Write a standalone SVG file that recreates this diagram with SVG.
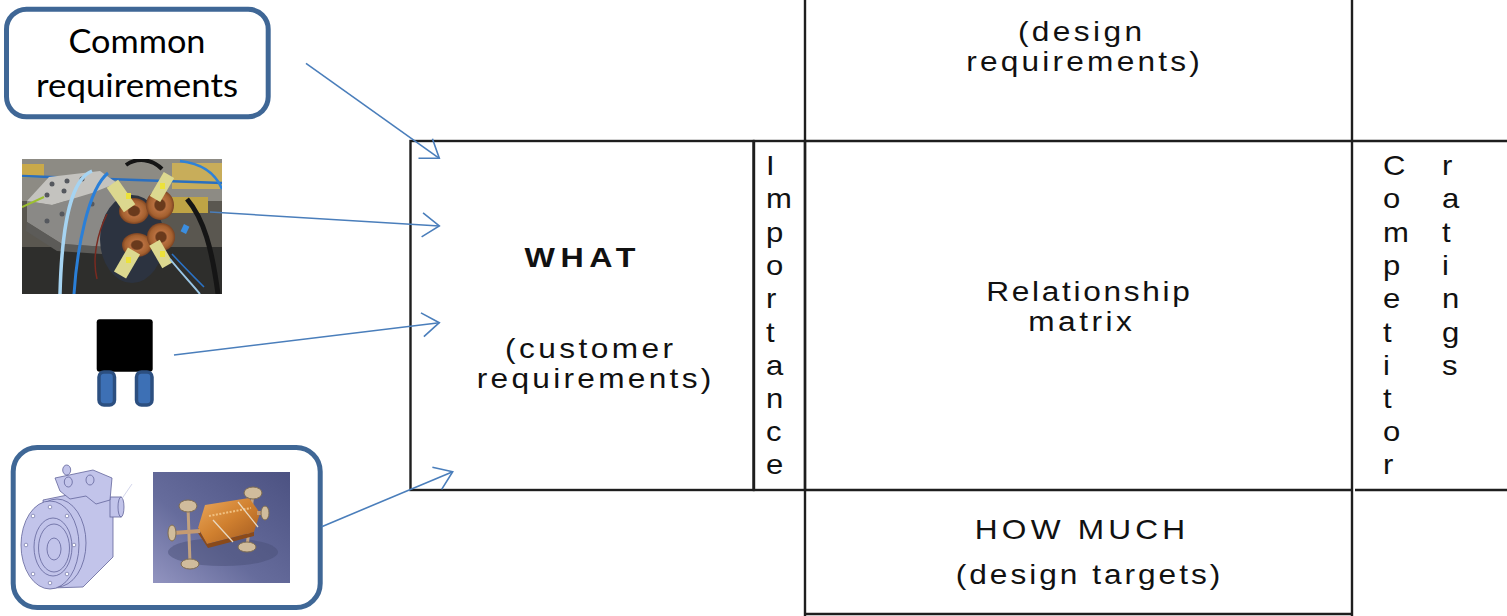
<svg xmlns="http://www.w3.org/2000/svg" width="1507" height="616" viewBox="0 0 1507 616">
<style>
.ln{stroke:#1e1e1e;stroke-width:2.4;fill:none}
.t{font-family:"Liberation Sans",Arial,sans-serif;font-size:27.5px;fill:#111;text-anchor:middle}
.v{font-family:"Liberation Sans",Arial,sans-serif;font-size:27px;fill:#111}
.cb{fill:#fff;stroke:#3f6796;stroke-width:5}
.ar{stroke:#4a7ebb;stroke-width:1.6;fill:none;marker-end:url(#ah)}
.cal{font-family:Lato,"Liberation Sans",sans-serif;font-size:33px;fill:#000;text-anchor:middle}
.fl{fill:#c2c4ea;stroke:#62649a;stroke-width:0.8}
</style>
<defs>
<marker id="ah" viewBox="0 0 21 26" refX="19" refY="13" markerWidth="21" markerHeight="26" markerUnits="userSpaceOnUse" orient="auto">
<path d="M2,1 L19,13 L2,25" fill="none" stroke="#4a7ebb" stroke-width="1.6"/>
</marker>
<clipPath id="c1"><rect x="0" y="0" width="200" height="135"/></clipPath>
<clipPath id="c2"><rect x="0" y="0" width="137" height="111"/></clipPath>
<linearGradient id="g2" x1="1" y1="0" x2="0" y2="1">
<stop offset="0" stop-color="#4c5282"/><stop offset="0.6" stop-color="#666c9c"/><stop offset="1" stop-color="#9294c0"/>
</linearGradient>
<linearGradient id="cu" x1="0" y1="0" x2="1" y2="1">
<stop offset="0" stop-color="#eaa85c"/><stop offset="0.5" stop-color="#d0802f"/><stop offset="1" stop-color="#a05820"/>
</linearGradient>
<radialGradient id="coil" cx="0.5" cy="0.5" r="0.5">
<stop offset="0.35" stop-color="#6a3a1c"/><stop offset="0.45" stop-color="#b87040"/><stop offset="0.8" stop-color="#a4602f"/><stop offset="1" stop-color="#7a4222"/>
</radialGradient>
</defs>

<!-- matrix -->
<g id="what">
<rect class="ln" x="410.5" y="141" width="343" height="349"/>
<text class="t" transform="translate(580,267) scale(1.15,1)" textLength="96.5" lengthAdjust="spacing" style="font-weight:bold;font-size:28px">WHAT</text>
<text class="t" transform="translate(589,358) scale(1.15,1)" textLength="146" lengthAdjust="spacing">(customer</text>
<text class="t" transform="translate(594,388) scale(1.15,1)" textLength="204" lengthAdjust="spacing">requirements)</text>
</g>
<g id="importance">
<rect class="ln" x="754" y="141" width="51" height="349"/>
<text class="v" transform="translate(766,0) scale(1.15,1)"><tspan x="0" y="175">I</tspan><tspan x="0" y="208">m</tspan><tspan x="0" y="242">p</tspan><tspan x="0" y="275">o</tspan><tspan x="0" y="308">r</tspan><tspan x="0" y="342">t</tspan><tspan x="0" y="375">a</tspan><tspan x="0" y="408">n</tspan><tspan x="0" y="441">c</tspan><tspan x="0" y="474">e</tspan></text>
</g>
<g id="grid">
<line class="ln" x1="805" y1="0" x2="805" y2="616"/>
<line class="ln" x1="1352" y1="0" x2="1352" y2="616"/>
<line class="ln" x1="805" y1="141" x2="1507" y2="141"/>
<line class="ln" x1="805" y1="490" x2="1351" y2="490"/>
<line class="ln" x1="1355" y1="490" x2="1507" y2="490"/>
<line class="ln" x1="805" y1="614" x2="1352" y2="614"/>
</g>
<g id="design-requirements">
<text class="t" transform="translate(1080,41) scale(1.15,1)" textLength="108" lengthAdjust="spacing">(design</text>
<text class="t" transform="translate(1083,71) scale(1.15,1)" textLength="203" lengthAdjust="spacing">requirements)</text>
</g>
<g id="relationship">
<text class="t" transform="translate(1088,301) scale(1.15,1)" textLength="177" lengthAdjust="spacing">Relationship</text>
<text class="t" transform="translate(1080,331) scale(1.15,1)" textLength="90" lengthAdjust="spacing">matrix</text>
</g>
<g id="how-much">
<text class="t" transform="translate(1080,539) scale(1.15,1)" textLength="183" lengthAdjust="spacing">HOW MUCH</text>
<text class="t" transform="translate(1088,584) scale(1.15,1)" textLength="230" lengthAdjust="spacing">(design targets)</text>
</g>
<g id="competitor">
<text class="v" transform="translate(1383,0) scale(1.15,1)"><tspan x="0" y="175">C</tspan><tspan x="0" y="208">o</tspan><tspan x="0" y="242">m</tspan><tspan x="0" y="275">p</tspan><tspan x="0" y="308">e</tspan><tspan x="0" y="342">t</tspan><tspan x="0" y="375">i</tspan><tspan x="0" y="408">t</tspan><tspan x="0" y="441">o</tspan><tspan x="0" y="474">r</tspan></text>
<text class="v" transform="translate(1442,0) scale(1.15,1)"><tspan x="0" y="175">r</tspan><tspan x="0" y="208">a</tspan><tspan x="0" y="242">t</tspan><tspan x="0" y="275">i</tspan><tspan x="0" y="308">n</tspan><tspan x="0" y="342">g</tspan><tspan x="0" y="375">s</tspan></text>
</g>

<!-- left sources -->
<g id="common">
<rect class="cb" x="6.5" y="9.2" width="261.7" height="107.6" rx="20"/>
<text class="cal" x="137" y="53" textLength="137" lengthAdjust="spacingAndGlyphs">Common</text>
<text class="cal" x="137" y="97" textLength="202" lengthAdjust="spacingAndGlyphs">requirements</text>
</g>

<g id="magnet-photo" transform="translate(22,159)">
<g clip-path="url(#c1)">
<rect x="0" y="0" width="200" height="135" fill="#5a5750"/>
<rect x="0" y="0" width="200" height="42" fill="#8d8b84"/>
<rect x="0" y="5" width="22" height="14" fill="#c9a94a"/>
<rect x="150" y="4" width="50" height="26" fill="#c8ad5a"/>
<rect x="146" y="38" width="40" height="16" fill="#bfa445"/>
<rect x="0" y="88" width="200" height="47" fill="#2e2e2c"/>
<line x1="0" y1="17" x2="200" y2="24" stroke="#2a6fc0" stroke-width="2.5"/>
<polygon points="5,42 30,46 70,34 95,24 100,65 85,88 40,85 5,63" fill="#8a8986"/>
<polygon points="5,42 27,18 78,12 95,24 70,34 30,46" fill="#c4c3bf"/>
<polygon points="5,63 40,85 85,88 80,95 35,92 4,72" fill="#5c5b58"/>
<g fill="#55585e"><circle cx="30" cy="25" r="2.5"/><circle cx="45" cy="22" r="2.5"/><circle cx="60" cy="20" r="2.5"/><circle cx="25" cy="36" r="2.5"/><circle cx="42" cy="32" r="2.5"/><circle cx="70" cy="45" r="2.5"/><circle cx="40" cy="55" r="2.5"/><circle cx="25" cy="62" r="2.5"/></g>
<line x1="0" y1="48" x2="22" y2="38" stroke="#9bbf30" stroke-width="2"/>
<ellipse cx="110" cy="80" rx="32" ry="44" fill="#2c3340"/>
<g>
<ellipse cx="112" cy="52" rx="15" ry="13" fill="url(#coil)"/>
<ellipse cx="138" cy="46" rx="14" ry="15" fill="url(#coil)"/>
<ellipse cx="115" cy="86" rx="15" ry="12" fill="url(#coil)"/>
<ellipse cx="139" cy="78" rx="14" ry="14" fill="url(#coil)"/>
</g>
<g fill="#dcd88f">
<rect x="92" y="22" width="14" height="30" transform="rotate(-35 99 37)"/>
<rect x="134" y="14" width="12" height="28" transform="rotate(30 140 28)"/>
<rect x="98" y="90" width="14" height="28" transform="rotate(30 105 104)"/>
<rect x="133" y="82" width="12" height="26" transform="rotate(-30 139 95)"/>
</g>
<g fill="#ece23a"><rect x="104" y="34" width="5" height="6"/><rect x="138" y="24" width="5" height="6"/><rect x="104" y="98" width="5" height="6"/><rect x="138" y="92" width="5" height="6"/></g>
<path d="M70,12 C50,20 40,60 38,135" stroke="#a6d4f2" stroke-width="3.5" fill="none"/>
<path d="M86,14 C66,30 55,90 52,135" stroke="#2a7fd8" stroke-width="3" fill="none"/>
<path d="M158,2 C185,5 195,18 200,30" stroke="#2e82d8" stroke-width="2.5" fill="none"/>
<path d="M104,6 C115,-2 130,0 140,10" stroke="#151515" stroke-width="4" fill="none"/>
<path d="M165,40 C182,60 190,90 196,135" stroke="#151515" stroke-width="5" fill="none"/>
<path d="M148,100 C160,115 170,125 178,135" stroke="#9bc7e6" stroke-width="2" fill="none"/>
<path d="M150,95 C162,108 172,118 182,128" stroke="#2a72c6" stroke-width="1.6" fill="none"/>
<rect x="160" y="66" width="6" height="8" fill="#3b8ee0" transform="rotate(25 163 70)"/>
<path d="M85,55 C75,75 70,100 75,120" stroke="#7a2a20" stroke-width="1.5" fill="none"/>
</g>
</g>

<g id="chip">
<rect x="96.7" y="319.3" width="56" height="52.4" rx="3" fill="#000"/>
<rect x="99" y="372" width="15.5" height="33" rx="5" fill="#3d70b5" stroke="#2c4f80" stroke-width="3.5"/>
<rect x="136.5" y="372" width="15.5" height="33" rx="5" fill="#3d70b5" stroke="#2c4f80" stroke-width="3.5"/>
</g>

<g id="structures">
<rect class="cb" x="13.2" y="447.5" width="307" height="160" rx="24"/>
<g id="flange-cad">
<polygon class="fl" points="43,500 97,489 113,500 113,557 83,587 50,588" fill="#b4b6e0"/>
<rect class="fl" x="110" y="497" width="11" height="20"/>
<ellipse class="fl" cx="121" cy="507" rx="3" ry="10"/>
<path d="M121,500 L132,484" stroke="#c8cae6" stroke-width="0.8"/>
<polygon class="fl" points="55,478 93,470 112,478 110,500 96,504 86,496 70,499 60,491"/>
<ellipse class="fl" cx="66.7" cy="470" rx="4" ry="5" fill="#dcdef2"/>
<ellipse class="fl" cx="68.3" cy="482" rx="4" ry="5" fill="#dcdef2"/>
<ellipse class="fl" cx="90" cy="480" rx="4" ry="5" fill="#dcdef2"/>
<ellipse class="fl" cx="57" cy="543" rx="29" ry="44" fill="#a6a8d6"/>
<ellipse class="fl" cx="50" cy="545" rx="29" ry="44"/>
<ellipse class="fl" cx="53" cy="547" rx="19" ry="29" fill="#b2b4de"/>
<ellipse class="fl" cx="54" cy="548" rx="15.5" ry="24" fill="#c6c8ec"/>
<ellipse class="fl" cx="54" cy="549" rx="7" ry="11" fill="#8e90bc"/>
<g fill="#fff" stroke="#62649a" stroke-width="0.6">
<circle cx="50" cy="507" r="1.8"/><circle cx="67" cy="516" r="1.8"/><circle cx="74" cy="545" r="1.8"/><circle cx="67" cy="574" r="1.8"/>
<circle cx="50" cy="583" r="1.8"/><circle cx="33" cy="574" r="1.8"/><circle cx="26" cy="545" r="1.8"/><circle cx="33" cy="516" r="1.8"/>
</g>
</g>
<g id="cavity-photo" transform="translate(153,472)">
<g clip-path="url(#c2)">
<rect x="0" y="0" width="137" height="111" fill="url(#g2)"/>
<ellipse cx="70" cy="80" rx="55" ry="14" fill="#4a4f78" opacity="0.5"/>
<line x1="35" y1="35" x2="37" y2="91" stroke="#c2a280" stroke-width="3"/>
<line x1="100" y1="21" x2="94" y2="75" stroke="#c2a280" stroke-width="3"/>
<polygon points="45,56 52,33 96,26 107,41 101,60 54,72" fill="url(#cu)"/>
<polygon points="45,56 54,72 101,60 101,64 55,76 45,61" fill="#8a4a1a"/>
<path d="M56,44 L98,36" stroke="#f0c080" stroke-width="2" stroke-dasharray="2 1.5"/>
<line x1="20" y1="61" x2="47" y2="59" stroke="#c49a72" stroke-width="4"/>
<line x1="104" y1="41" x2="112" y2="41" stroke="#c49a72" stroke-width="4"/>
<g fill="#d0bc9c" stroke="#7e6c52" stroke-width="1">
<ellipse cx="35" cy="34" rx="9" ry="6"/>
<ellipse cx="100" cy="21" rx="9" ry="6"/>
<ellipse cx="37" cy="92" rx="9" ry="5"/>
<ellipse cx="94" cy="75" rx="9" ry="5"/>
<ellipse cx="19" cy="61" rx="4" ry="8"/>
<ellipse cx="112" cy="41" rx="4" ry="7"/>
</g>
<path d="M60,48 L80,70 M85,30 L105,55" stroke="#e8d8c0" stroke-width="1.3"/>
</g>
</g>
</g>

<g id="connectors">
<line class="ar" x1="306" y1="63.3" x2="439.3" y2="158.3"/>
<line class="ar" x1="210" y1="212" x2="439.3" y2="226"/>
<line class="ar" x1="174" y1="355" x2="439.3" y2="322.7"/>
<line class="ar" x1="321.7" y1="526.7" x2="452.7" y2="471.7"/>
</g>
</svg>
